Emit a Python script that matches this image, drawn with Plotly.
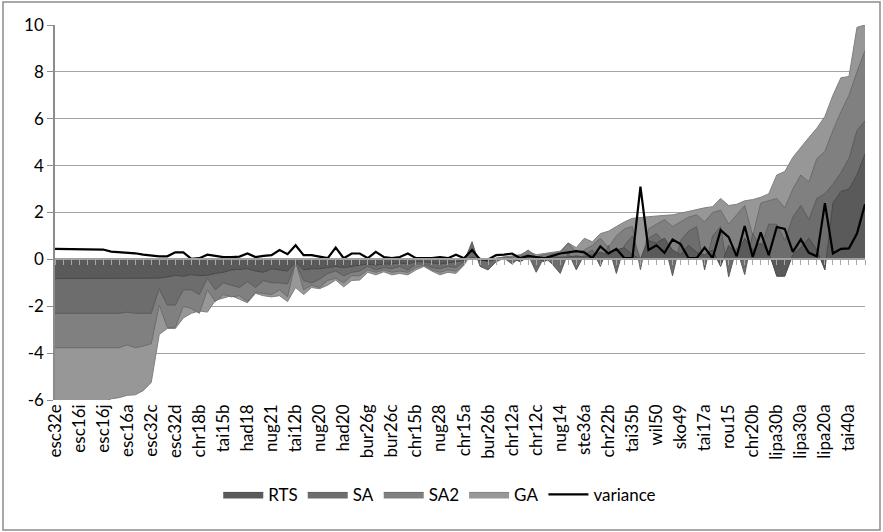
import plotly.graph_objects as go

# Instance labels shown on the category axis (every third instance is labelled)
shown_labels = ["esc32e", "esc16i", "esc16j", "esc16a", "esc32c", "esc32d", "chr18b", "tai15b",
                "had18", "nug21", "tai12b", "nug20", "had20", "bur26g", "bur26c", "chr15b",
                "nug28", "chr15a", "bur26b", "chr12a", "chr12c", "nug14", "ste36a", "chr22b",
                "tai35b", "wil50", "sko49", "tai17a", "rou15", "chr20b", "lipa30b", "lipa30a",
                "lipa20a", "tai40a"]
label_step = 3

rts = [-0.82, -0.82, -0.82, -0.82, -0.82, -0.82, -0.82, -0.82, -0.82, -0.82,
       -0.82, -0.82, -0.82, -0.8, -0.75, -0.68, -0.72, -0.65, -0.7, -0.68,
       -0.6, -0.55, -0.45, -0.42, -0.4, -0.5, -0.55, -0.4, -0.45, -0.5,
       -0.1, -0.45, -0.4, -0.4, -0.35, -0.3, -0.35, -0.3, -0.25, -0.2,
       -0.25, -0.2, -0.2, -0.15, -0.2, -0.1, -0.1, -0.15, -0.2, -0.15,
       -0.1, -0.05, 0.1, 0.0, -0.1, 0.0, 0.05, 0.05, -0.1, 0.1,
       0.05, -0.1, 0.1, 0.1, 0.1, 0.15, 0.1, 0.2, 0.3, 0.2,
       0.4, 0.5, 0.2, 0.0, 0.8, 0.7, 0.9, 0.4, 0.2, 0.6,
       0.3, 0.2, 0.4, -0.3, 0.6, 0.2, 0.9, 0.4, 0.7, 0.3,
       -0.72, -0.72, 0.2, 0.5, 0.9, 0.4, -0.45, 2.4, 2.9, 3.0,
       3.6, 4.5]

sa = [-2.3, -2.3, -2.3, -2.3, -2.3, -2.3, -2.3, -2.3, -2.3, -2.25,
      -2.3, -2.3, -2.3, -1.25, -1.95, -1.95, -1.3, -1.3, -1.5, -0.8,
      -1.3, -1.0, -1.1, -1.2, -0.95, -1.2, -0.9, -1.0, -1.0, -1.05,
      -0.1, -0.9, -1.0, -0.85, -0.6, -0.5, -0.7, -0.55, -0.5, -0.3,
      -0.45, -0.35, -0.4, -0.3, -0.45, -0.2, -0.2, -0.35, -0.4, -0.3,
      -0.35, -0.1, 0.75, -0.3, -0.45, -0.1, 0.05, -0.2, 0.1, 0.2,
      -0.55, 0.1, -0.2, -0.6, 0.3, -0.45, 0.2, 0.4, -0.3, 0.6,
      -0.6, 0.6, 1.0, 0.0, 0.9, 1.1, 0.7, -0.7, 0.8, 1.2,
      1.4, -0.45, 1.0, 1.4, -0.75, 0.5, -0.65, 1.1, 0.5, 1.5,
      1.5, 0.8, 1.8, 2.3, 1.7, 2.6, 2.8, 3.2, 3.7, 4.3,
      5.5, 5.9]

sa2 = [-3.77, -3.77, -3.77, -3.77, -3.77, -3.77, -3.77, -3.77, -3.77, -3.65,
       -3.77, -3.7, -3.6, -1.95, -2.9, -2.9, -2.0, -2.1, -2.3, -1.3,
       -1.8, -1.5, -1.6, -1.55, -1.8, -1.4, -1.45, -1.5, -1.3, -1.6,
       -0.1, -1.3, -1.1, -1.2, -0.9, -0.8, -1.0, -0.7, -0.7, -0.45,
       -0.55, -0.45, -0.55, -0.5, -0.55, -0.35, -0.25, -0.45, -0.55, -0.45,
       -0.5, -0.2, 0.5, -0.2, -0.3, 0.05, 0.1, 0.1, 0.15, 0.4,
       0.1, 0.2, 0.25, 0.3, 0.7, 0.3, 0.4, 0.6, 0.9, 0.5,
       1.0, 1.3, 1.4, -0.45, 1.3, 1.5, 1.7, 1.4, 1.6, 1.8,
       1.9, 1.6, 2.0, 2.1, 1.5, 1.9, 2.3, 1.0, 2.4, 2.5,
       2.6, 2.2, 3.0, 3.6, 3.3, 4.3, 4.6, 5.5, 6.3, 7.0,
       8.0, 8.9]

ga = [-6.4, -6.4, -6.4, -6.4, -6.4, -6.4, -6.1, -5.95, -5.9, -5.8,
      -5.78, -5.6, -5.25, -3.2, -2.95, -2.95, -2.5, -2.3, -2.2, -2.25,
      -1.75, -1.65, -1.55, -1.7, -1.85, -1.45, -1.55, -1.6, -1.55, -1.8,
      -1.2, -1.5, -1.2, -1.25, -1.1, -0.88, -1.17, -0.9, -0.88, -0.55,
      -0.66, -0.53, -0.66, -0.6, -0.66, -0.45, -0.3, -0.5, -0.66, -0.55,
      -0.6, -0.25, 0.3, 0.05, 0.0, 0.05, 0.1, 0.15, 0.2, 0.35,
      0.2, 0.25, 0.3, 0.35, 0.7, 0.5, 0.9, 0.75, 1.1, 1.2,
      1.4, 1.6, 1.75, 1.8, 1.82, 1.85, 1.88, 1.9, 1.97, 2.05,
      2.1, 2.2, 2.25, 2.6, 2.3, 2.35, 2.5, 2.55, 2.65, 2.8,
      3.6, 3.75, 4.35, 4.8, 5.2, 5.6, 6.1, 7.0, 7.75, 7.8,
      9.9, 10.0]

variance = [0.45, 0.45, 0.45, 0.45, 0.45, 0.45, 0.42, 0.33, 0.31, 0.29,
            0.26, 0.2, 0.15, 0.13, 0.13, 0.3, 0.3, 0.02, 0.05, 0.2,
            0.15, 0.1, 0.1, 0.12, 0.25, 0.1, 0.15, 0.18, 0.4, 0.22,
            0.6, 0.18, 0.18, 0.12, 0.05, 0.5, 0.05, 0.25, 0.25, 0.05,
            0.32, 0.1, 0.05, 0.1, 0.25, 0.05, 0.05, 0.05, 0.1, 0.05,
            0.2, 0.05, 0.4, 0.0, 0.0, 0.18, 0.2, 0.25, 0.05, 0.15,
            0.1, 0.05, 0.15, 0.25, 0.3, 0.35, 0.3, 0.05, 0.55, 0.25,
            0.45, 0.05, 0.05, 3.1, 0.4, 0.6, 0.28, 0.85, 0.65, 0.05,
            0.05, 0.5, 0.05, 1.25, 0.95, 0.13, 1.42, 0.1, 1.15, 0.18,
            1.38, 1.3, 0.32, 0.85, 0.28, 0.13, 2.4, 0.25, 0.45, 0.47,
            1.1, 2.35]

y_ticks = [-6, -4, -2, 0, 2, 4, 6, 8, 10]

x = list(range(len(ga)))
FONT = "Lato"

fig = go.Figure()

# Areas overlap; the largest-magnitude series sits at the back
area_series = [
    ("GA", ga, "#979797", "#808080", 4),
    ("SA2", sa2, "#808080", "#6c6c6c", 3),
    ("SA", sa, "#6d6d6d", "#5c5c5c", 2),
    ("RTS", rts, "#5a5a5a", "#4a4a4a", 1),
]
for name, vals, fill, edge, rank in area_series:
    fig.add_trace(go.Scatter(
        x=x, y=vals, name=name, mode="lines", fill="tozeroy",
        fillcolor=fill, line=dict(color=edge, width=1),
        legendrank=rank, xaxis="x", yaxis="y",
    ))

fig.add_trace(go.Scatter(
    x=x, y=variance, name="variance", mode="lines",
    line=dict(color="#000000", width=2.2), legendrank=5,
))

# hidden carrier trace so the zero-crossing category axis is rendered
fig.add_trace(go.Scatter(
    x=x, y=variance, xaxis="x2", yaxis="y", mode="lines",
    line=dict(width=0, color="rgba(0,0,0,0)"), showlegend=False, hoverinfo="skip",
))

tickpos = [i * label_step for i in range(len(shown_labels))]

fig.update_layout(
    width=883, height=532,
    margin=dict(l=55, r=18, t=25, b=132),
    paper_bgcolor="white", plot_bgcolor="white",
    font=dict(family=FONT, size=17, color="#000000"),
    showlegend=True,
    legend=dict(orientation="h", x=0.475, xanchor="center", y=-0.253, yanchor="middle",
                font=dict(family=FONT, size=17), itemwidth=40, tracegroupgap=0,
                bgcolor="rgba(0,0,0,0)"),
    xaxis=dict(range=[0, len(ga) - 1], tickmode="array", tickvals=tickpos,
               ticktext=shown_labels, tickangle=-90, showgrid=False, zeroline=False,
               showline=False, ticks="", tickfont=dict(family=FONT, size=17)),
    # category axis drawn through zero with a tick at every instance
    xaxis2=dict(overlaying="x", anchor="free", position=6 / 16, side="bottom",
                range=[0, len(ga) - 1], tickmode="linear", tick0=0, dtick=1,
                ticks="outside", ticklen=5, tickwidth=1, tickcolor="#a8a8a8",
                showticklabels=False, showgrid=False, zeroline=False,
                showline=True, linecolor="#a0a0a0", linewidth=2, layer="above traces"),
    yaxis=dict(range=[-6, 10], tickmode="array", tickvals=y_ticks,
               ticktext=[str(v) for v in y_ticks], showgrid=True, gridcolor="#a3a3a3",
               gridwidth=1, zeroline=False, showline=True, linecolor="#8c8c8c",
               linewidth=1.5, ticks="outside", ticklen=6, tickcolor="#8c8c8c",
               tickfont=dict(family=FONT, size=17)),
)

# outer chart border
fig.add_shape(type="rect", xref="paper", yref="paper",
              x0=(3 - 55) / 810, x1=(880 - 55) / 810,
              y0=(400 - 530) / 375, y1=(400 - 2) / 375,
              line=dict(color="#8c8c8c", width=1.5), fillcolor="rgba(0,0,0,0)", layer="below")

fig.write_html("out.html")
